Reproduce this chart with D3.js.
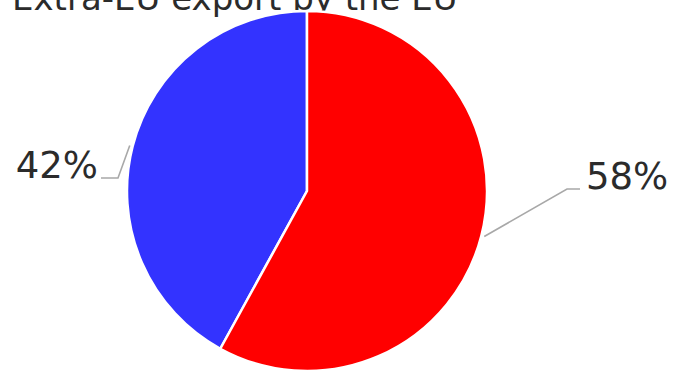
<!DOCTYPE html>
<html>
<head>
<meta charset="utf-8">
<script src="https://cdn.jsdelivr.net/npm/d3@7"></script>
<style>
  html, body { margin: 0; padding: 0; background: #fff; }
  svg { display: block; }
  text { font-family: "DejaVu Sans", sans-serif; fill: #2b2b2b; }
</style>
</head>
<body>
<svg id="chart" width="675" height="372"></svg>
<script>
// Share of extra-EU exports
const categories = ["Blue share", "Red share"];
const values = [42, 58];
const labels = ["42%", "58%"];
const colors = ["#3333ff", "#ff0000"];
const title = "Extra-EU export by the EU";

const svg = d3.select("#chart");
const cx = 307, cy = 191, radius = 180;

svg.append("text")
  .attr("x", 12)
  .attr("y", 10)
  .attr("font-size", 34)
  .text(title);

const g = svg.append("g").attr("transform", `translate(${cx},${cy})`);

// Blue slice sits counter-clockwise from 12 o'clock, red runs clockwise
const total = d3.sum(values);
const offset = values[0] / total * 2 * Math.PI;
const pie = d3.pie()
  .sort(null)
  .value(d => d.value)
  .startAngle(-offset)
  .endAngle(2 * Math.PI - offset);

const data = categories.map((c, i) => ({ name: c, value: values[i], label: labels[i], color: colors[i] }));
const arcs = pie(data);

const arc = d3.arc().innerRadius(0).outerRadius(radius);

g.selectAll("path.slice")
  .data(arcs)
  .join("path")
  .attr("class", "slice")
  .attr("d", arc)
  .attr("fill", d => d.data.color)
  .attr("stroke", "#fff")
  .attr("stroke-width", 2.5)
  .attr("stroke-linejoin", "round");

// Leader lines: start on the rim at the slice mid-angle, bend, then run level to the label
const leader = [
  { elbow: [-189, -13], end: [-206, -13], anchor: "end", tx: -209 },
  { elbow: [260, -2], end: [273, -2], anchor: "start", tx: 279 }
];

arcs.forEach((a, i) => {
  const mid = (a.startAngle + a.endAngle) / 2;
  const r0 = radius + 3;
  const start = [r0 * Math.sin(mid), -r0 * Math.cos(mid)];
  const L = leader[i];
  g.append("polyline")
    .attr("points", [start, L.elbow, L.end].map(p => p.join(",")).join(" "))
    .attr("fill", "none")
    .attr("stroke", "#a8a8a8")
    .attr("stroke-width", 1.6);
  g.append("text")
    .attr("x", L.tx)
    .attr("y", L.end[1])
    .attr("text-anchor", L.anchor)
    .attr("font-size", 37)
    .text(a.data.label);
});
</script>
</body>
</html>
